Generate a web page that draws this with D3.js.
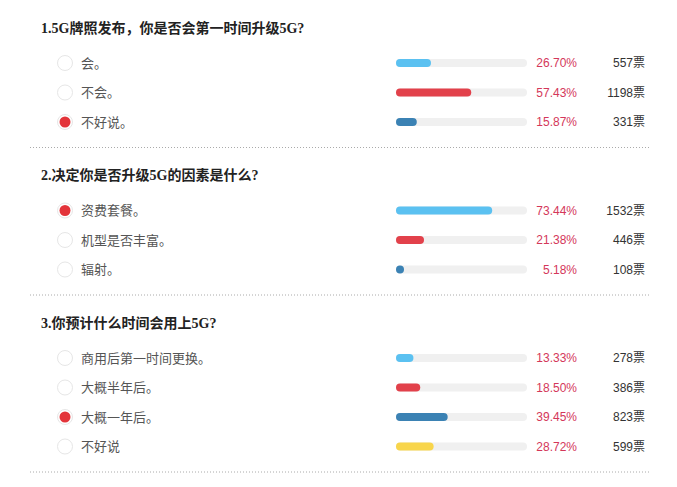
<!DOCTYPE html>
<html><head><meta charset="utf-8">
<script src="https://cdn.jsdelivr.net/npm/d3@7"></script>
<style>body{margin:0;background:#fff}</style>
</head><body>
<script>
const questions = ["1.5G牌照发布，你是否会第一时间升级5G?", "2.决定你是否升级5G的因素是什么?", "3.你预计什么时间会用上5G?"];
const options = [["会。", "不会。", "不好说。"], ["资费套餐。", "机型是否丰富。", "辐射。"], ["商用后第一时间更换。", "大概半年后。", "大概一年后。", "不好说"]];
const percents = [[26.70, 57.43, 15.87], [73.44, 21.38, 5.18], [13.33, 18.50, 39.45, 28.72]];
const votes = [[557, 1198, 331], [1532, 446, 108], [278, 386, 823, 599]];
const selected = [2, 0, 2];
const barColors = ["#5bc1f1", "#e2414b", "#3b82b4", "#f8d54b"];

const W = 677, H = 487;
const svg = d3.select("body").append("svg").attr("width", W).attr("height", H);
const x = d3.scaleLinear().domain([0, 100]).range([0, 131]);
const barX = 396, barH = 8;
const serif = "'Liberation Serif','Noto Sans CJK SC',serif";
const sans = "'Liberation Sans','Noto Sans CJK SC',sans-serif";

let y = 28;
questions.forEach((q, qi) => {
  const g = svg.append("g");
  g.append("text").attr("x", 41).attr("y", y).attr("dy", "0.35em")
    .attr("font-family", serif).attr("font-size", 14).attr("font-weight", "bold")
    .attr("fill", "#222").text(q);
  const rowY = i => y + 35 + i * 29.5;
  const rows = g.selectAll("g.row").data(options[qi]).join("g").attr("class", "row")
    .attr("transform", (d, i) => `translate(0,${rowY(i)})`);
  rows.append("circle").attr("cx", 65).attr("cy", 0).attr("r", 7.5)
    .attr("fill", "#fff").attr("stroke", "#e6e6e6").attr("stroke-width", 1);
  rows.filter((d, i) => i === selected[qi]).append("circle").attr("cx", 65).attr("cy", 0).attr("r", 5.5)
    .attr("fill", "#e3343a");
  rows.append("text").attr("x", 81).attr("y", 0).attr("dy", "0.35em")
    .attr("font-family", serif).attr("font-size", 13).attr("fill", "#555").text(d => d);
  rows.append("rect").attr("x", barX).attr("y", -barH / 2).attr("width", x(100)).attr("height", barH)
    .attr("rx", barH / 2).attr("fill", "#f0f0f0");
  rows.append("rect").attr("x", barX).attr("y", -barH / 2)
    .attr("width", (d, i) => Math.max(barH, x(percents[qi][i]))).attr("height", barH)
    .attr("rx", barH / 2).attr("fill", (d, i) => barColors[i]);
  rows.append("text").attr("x", 577).attr("y", 0).attr("dy", "0.35em").attr("text-anchor", "end")
    .attr("font-family", sans).attr("font-size", 12).attr("fill", "#d4375a")
    .text((d, i) => percents[qi][i].toFixed(2) + "%");
  rows.append("text").attr("x", 645).attr("y", 0).attr("dy", "0.35em").attr("text-anchor", "end")
    .attr("font-family", sans).attr("font-size", 12).attr("fill", "#333")
    .text((d, i) => votes[qi][i] + "票");
  const divY = rowY(options[qi].length - 1) + 25;
  g.append("line").attr("x1", 30).attr("x2", 650).attr("y1", divY + 0.5).attr("y2", divY + 0.5)
    .attr("stroke", "#aaa").attr("stroke-dasharray", "1,2");
  y = divY + 28.5;
});
</script>
</body></html>
